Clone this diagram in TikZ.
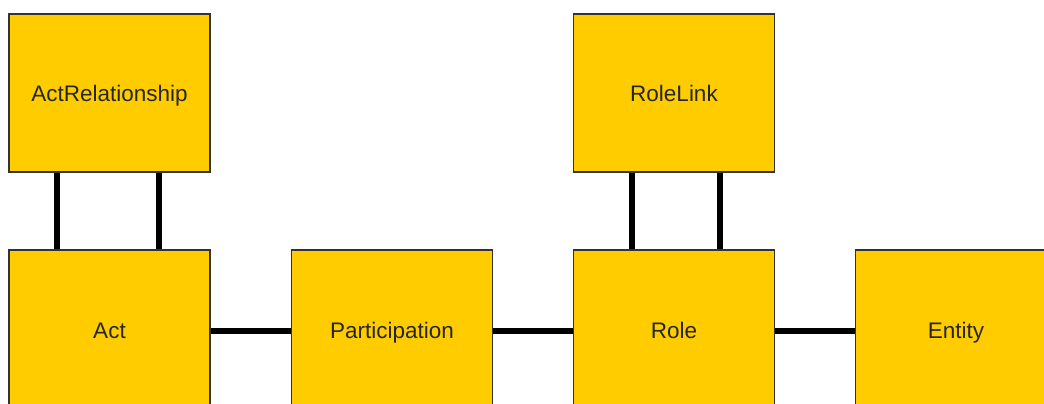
\documentclass[tikz,border=0pt]{standalone}
\usepackage{fontspec}
\setmainfont{Liberation Sans}
\definecolor{boxfill}{HTML}{FFCC00}
\definecolor{boxedge}{HTML}{333333}
\begin{document}
\begin{tikzpicture}[x=1pt,y=-1pt,
  classbox/.style={draw=boxedge, line width=1.2pt, fill=boxfill,
    minimum width=201pt, inner sep=0pt,
    text height=16.1pt, text depth=0pt,
    font=\fontsize{22.5}{27}\selectfont, text=black!85},
  toprow/.style={classbox, minimum height=158pt},
  lowrow/.style={classbox, minimum height=160pt},
  link/.style={line width=6.5pt, black}]
\useasboundingbox (0,0) rectangle (1044,404);
\clip (0,0) rectangle (1044,404);
\fill[white] (0,0) rectangle (1044,404);

% upper row
\node[toprow] (ar) at (109.5,93) {ActRelationship};
\node[toprow] (rl) at (674,93) {RoleLink};

% lower row
\node[lowrow] (act)  at (109.5,330) {Act};
\node[lowrow] (part) at (392,330) {Participation};
\node[lowrow] (role) at (674,330) {Role};
\node[lowrow] (ent)  at (956,330) {Entity};

% vertical links
\draw[link] ([xshift=-52.5pt]ar.south) -- ([xshift=-52.5pt]act.north);
\draw[link] ([xshift=49.5pt]ar.south) -- ([xshift=49.5pt]act.north);
\draw[link] ([xshift=-42pt]rl.south) -- ([xshift=-42pt]role.north);
\draw[link] ([xshift=46pt]rl.south) -- ([xshift=46pt]role.north);

% horizontal links
\draw[link] ([yshift=-1pt]act.east) -- ([yshift=-1pt]part.west);
\draw[link] ([yshift=-1pt]part.east) -- ([yshift=-1pt]role.west);
\draw[link] ([yshift=-1pt]role.east) -- ([yshift=-1pt]ent.west);
\end{tikzpicture}
\end{document}
